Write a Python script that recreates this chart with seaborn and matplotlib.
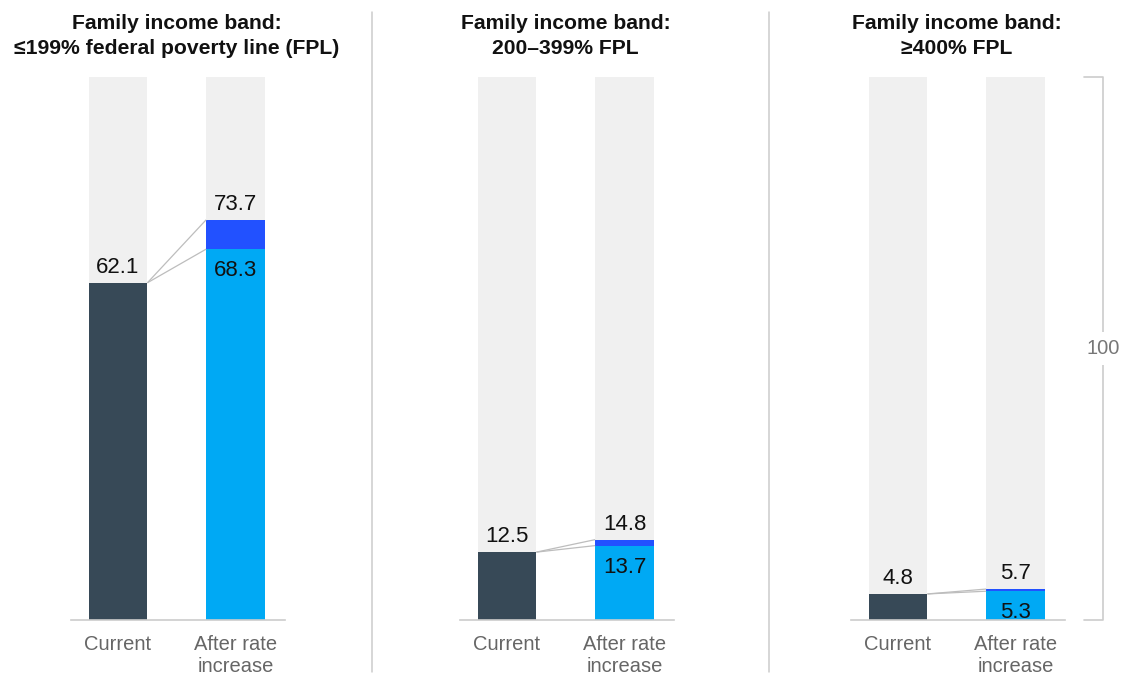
import matplotlib
matplotlib.use("Agg")
import matplotlib.pyplot as plt
import matplotlib.transforms as mtransforms
import pandas as pd
import seaborn as sns

sns.set_theme(style="white")
plt.rcParams["font.family"] = ["Liberation Sans", "DejaVu Sans"]

# Data
panel_titles = [
    "Family income band:\n\u2264199% federal poverty line (FPL)",
    "Family income band:\n200\u2013399% FPL",
    "Family income band:\n\u2265400% FPL",
]
categories = ["Current", "After rate\nincrease"]
current_share = [62.1, 12.5, 4.8]
after_base = [68.3, 13.7, 5.3]
after_total = [73.7, 14.8, 5.7]
scale_max = 100

# Styling
C_BG = "#F0F0F0"
C_CURRENT = "#374957"
C_BASE = "#00A9F4"
C_ADD = "#2251FF"
C_LINE = "#BDBDBD"
C_TEXT = "#111111"
C_LABEL = "#666666"

W, H = 1129, 675
fig = plt.figure(figsize=(W / 100, H / 100), dpi=100)

unit_px = 117.5
left_px = [71, 460, 851]
bottom_px = 55
height_px = 543
xlim = (-0.4, 1.42)
width_px = (xlim[1] - xlim[0]) * unit_px

axes = []
for i in range(3):
    ax = fig.add_axes([left_px[i] / W, bottom_px / H, width_px / W, height_px / H])
    axes.append(ax)

    bg = pd.DataFrame({"cat": categories, "val": [scale_max, scale_max]})
    sns.barplot(data=bg, x="cat", y="val", color=C_BG, width=0.5, ax=ax,
                saturation=1, linewidth=0)

    top = pd.DataFrame({"cat": [categories[1]], "val": [after_total[i]]})
    sns.barplot(data=top, x="cat", y="val", color=C_ADD, width=0.5, ax=ax,
                order=categories, saturation=1, linewidth=0)

    base = pd.DataFrame({"cat": categories, "val": [current_share[i], after_base[i]]})
    sns.barplot(data=base, x="cat", y="val", hue="cat", palette=[C_CURRENT, C_BASE],
                width=0.5, ax=ax, order=categories, saturation=1, linewidth=0,
                legend=False)

    # connectors from the current bar to the new bar
    x0, x1 = 0.25, 0.75
    ax.plot([x0, x1], [current_share[i], after_base[i]], color=C_LINE, lw=0.9,
            solid_capstyle="butt", zorder=5)
    ax.plot([x0, x1], [current_share[i], after_total[i]], color=C_LINE, lw=0.9,
            solid_capstyle="butt", zorder=5)

    # value labels
    ax.annotate(f"{current_share[i]}", (0, current_share[i]), xytext=(0, 5),
                textcoords="offset pixels", ha="center", va="bottom",
                fontsize=16, color=C_TEXT, zorder=6)
    ax.annotate(f"{after_total[i]}", (1, after_total[i]), xytext=(0, 5),
                textcoords="offset pixels", ha="center", va="bottom",
                fontsize=16, color=C_TEXT, zorder=6)
    ax.annotate(f"{after_base[i]}", (1, after_base[i]), xytext=(0, -11),
                textcoords="offset pixels", ha="center", va="top",
                fontsize=16, color=C_TEXT, zorder=6)

    ax.set_xlim(*xlim)
    ax.set_ylim(0, scale_max)
    ax.set_xlabel("")
    ax.set_ylabel("")
    ax.set_yticks([])
    ax.tick_params(axis="x", length=0, pad=11, labelsize=14.5, labelcolor=C_LABEL)
    for lab in ax.get_xticklabels():
        lab.set_verticalalignment("top")
        lab.set_linespacing(1.15)
    for s in ["top", "left", "right"]:
        ax.spines[s].set_visible(False)
    ax.spines["bottom"].set_color("#CCCCCC")
    ax.spines["bottom"].set_linewidth(1.2)

    # panel title
    cx = (left_px[i] + (0 - xlim[0]) * unit_px + 0.5 * unit_px) / W
    fig.text(cx, 1 - 36 / H, panel_titles[i], ha="center", va="center",
             fontsize=15.2, fontweight="bold", color=C_TEXT, linespacing=1.35)

# vertical dividers between panels
for xp in [372, 769]:
    fig.add_artist(plt.Line2D([xp / W, xp / W], [1 - 12 / H, 1 - 672 / H],
                              color="#CCCCCC", lw=1.1, transform=fig.transFigure))

# scale bracket marking the full 100
ax = axes[2]
tr = mtransforms.blended_transform_factory(fig.transFigure, ax.transData)
bx, tick_x = 1103 / W, 1084 / W
ax.add_line(plt.Line2D([tick_x, bx, bx, tick_x], [scale_max, scale_max, 0, 0],
                       transform=tr, color="#CCCCCC", lw=1.2, clip_on=False))
ax.text(bx, scale_max / 2, f"{scale_max}", transform=tr, ha="center", va="center",
        fontsize=14.5, color="#777777", clip_on=False,
        bbox=dict(facecolor="white", edgecolor="none", pad=5))

fig.savefig("out.png", dpi=100)
